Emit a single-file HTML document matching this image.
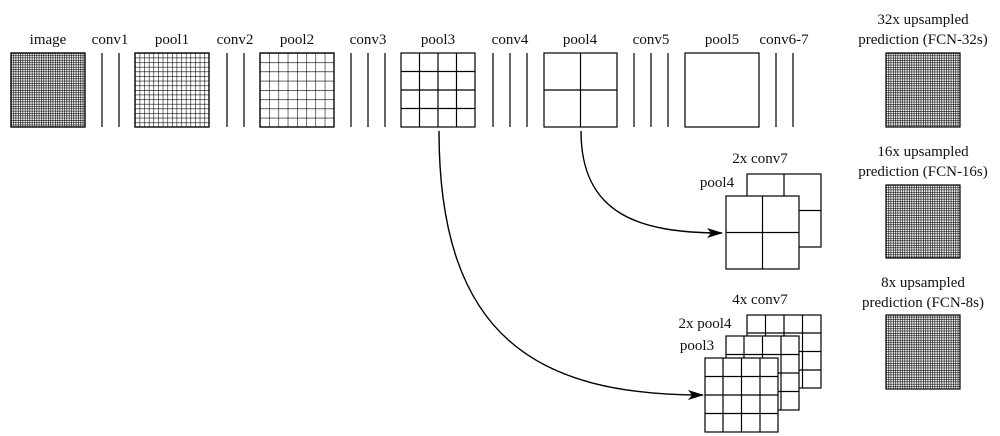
<!DOCTYPE html>
<html><head><meta charset="utf-8"><style>
html,body{margin:0;padding:0;background:#fff;}
svg{display:block}
text{font-family:"Liberation Serif",serif;font-size:15px;fill:#111;text-anchor:middle}
</style></head><body>
<svg width="1000" height="436" viewBox="0 0 1000 436" xmlns="http://www.w3.org/2000/svg">
<defs>
<pattern id="d32" x="11" y="53" width="2.3125" height="2.3125" patternUnits="userSpaceOnUse">
<path d="M0 0V2.3125M0 0H2.3125" stroke="#000" stroke-width="1.25" fill="none"/></pattern>
<pattern id="p32" x="886" y="0" width="2.3125" height="2.3125" patternUnits="userSpaceOnUse">
<path d="M0 0V2.3125M0 0H2.3125" stroke="#000" stroke-width="1.25" fill="none"/></pattern>
<pattern id="d16" x="135" y="53" width="4.625" height="4.625" patternUnits="userSpaceOnUse">
<path d="M0 0V4.625M0 0H4.625" stroke="#000" stroke-width="1.1" fill="none"/></pattern>
<pattern id="d8" x="260" y="53" width="9.25" height="9.25" patternUnits="userSpaceOnUse">
<path d="M0 0V9.25M0 0H9.25" stroke="#000" stroke-width="1.1" fill="none"/></pattern>
<marker id="ah" markerWidth="16" markerHeight="10" refX="15" refY="5" orient="auto" markerUnits="userSpaceOnUse">
<path d="M0 0L16 5L0 10L4 5Z" fill="#000"/></marker>
</defs>
<g stroke="#000" stroke-width="1.2" fill="none">
<rect x="11" y="53" width="74" height="74" fill="url(#d32)"/>
<rect x="11" y="53" width="74" height="74"/>
<path d="M102 53V127M119 53V127"/>
<rect x="135" y="53" width="74" height="74" fill="url(#d16)"/>
<rect x="135" y="53" width="74" height="74"/>
<path d="M227 53V127M244 53V127"/>
<rect x="260" y="53" width="74" height="74" fill="url(#d8)"/>
<rect x="260" y="53" width="74" height="74"/>
<path d="M351 53V127M368 53V127M385 53V127"/>
<rect x="401" y="53" width="74" height="74"/>
<path d="M419.5 53V127M438 53V127M456.5 53V127M401 71.5H475M401 90H475M401 108.5H475"/>
<path d="M493 53V127M510 53V127M527 53V127"/>
<rect x="544" y="53" width="73" height="74"/>
<path d="M580.5 53V127M544 90H617"/>
<path d="M634 53V127M651 53V127M668 53V127"/>
<rect x="685" y="53" width="74" height="74"/>
<path d="M776 53V127M793 53V127"/>
<rect x="886" y="53" width="74" height="74" fill="url(#p32)" stroke="none"/>
<rect x="886" y="53" width="74" height="74"/>
<rect x="886" y="185" width="74" height="73" fill="url(#p32)" stroke="none"/>
<rect x="886" y="185" width="74" height="73"/>
<rect x="886" y="315" width="74" height="74" fill="url(#p32)" stroke="none"/>
<rect x="886" y="315" width="74" height="74"/>
<rect x="747" y="174" width="74" height="73" fill="#fff"/>
<path d="M784 174V247M747 210.5H821"/>
<rect x="726" y="196" width="73" height="73" fill="#fff"/>
<path d="M762.5 196V269M726 232.5H799"/>
<rect x="747" y="315" width="74" height="73" fill="#fff"/>
<path d="M765.5 315V388M784 315V388M802.5 315V388M747 333H821M747 351.5H821M747 370H821"/>
<rect x="726" y="336" width="73" height="74" fill="#fff"/>
<path d="M744 336V410M762.5 336V410M781 336V410M726 354.5H799M726 373H799M726 391.5H799"/>
<rect x="705" y="358" width="73" height="74" fill="#fff"/>
<path d="M723 358V432M741.5 358V432M760 358V432M705 376.5H778M705 395H778M705 413.5H778"/>
<path d="M581 131C581 215 640 233 722 233" stroke-width="1.4" marker-end="url(#ah)"/>
<path d="M439 131C439 340 540 395 703 395" stroke-width="1.4" marker-end="url(#ah)"/>
</g>
<text x="48" y="44">image</text>
<text x="110" y="44">conv1</text>
<text x="172" y="44">pool1</text>
<text x="235" y="44">conv2</text>
<text x="297" y="44">pool2</text>
<text x="368" y="44">conv3</text>
<text x="438" y="44">pool3</text>
<text x="510" y="44">conv4</text>
<text x="580" y="44">pool4</text>
<text x="651" y="44">conv5</text>
<text x="722" y="44">pool5</text>
<text x="784" y="44">conv6-7</text>
<text x="923" y="24">32x upsampled</text>
<text x="923" y="44">prediction (FCN-32s)</text>
<text x="923" y="156">16x upsampled</text>
<text x="923" y="176">prediction (FCN-16s)</text>
<text x="923" y="287">8x upsampled</text>
<text x="923" y="307">prediction (FCN-8s)</text>
<text x="760" y="163">2x conv7</text>
<text x="717" y="187">pool4</text>
<text x="760" y="304">4x conv7</text>
<text x="705" y="328">2x pool4</text>
<text x="697" y="350">pool3</text>
</svg>
</body></html>
